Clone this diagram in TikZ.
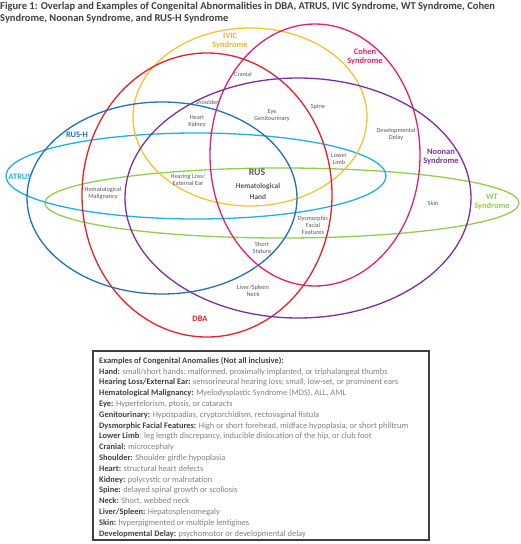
\documentclass[tikz,border=0pt]{standalone}
\usepackage{fontspec}
\setmainfont{Carlito}
\definecolor{ivic}{HTML}{F0C532}
\definecolor{ivict}{HTML}{E6B52C}
\definecolor{cohen}{HTML}{E4206E}
\definecolor{dba}{HTML}{E6202A}
\definecolor{noonan}{HTML}{7A30A0}
\definecolor{rush}{HTML}{2470B6}
\definecolor{atrus}{HTML}{22AEE2}
\definecolor{wt}{HTML}{92CD50}
\definecolor{txt}{HTML}{595959}
\definecolor{dtxt}{HTML}{404040}
\definecolor{ltxt}{HTML}{808080}
\begin{document}
\begin{tikzpicture}[x=1pt,y=-1pt,
  ring/.style={line width=1.3pt},
  setlabel/.style={font=\fontsize{8.4}{9.4}\selectfont\bfseries,align=center,inner sep=0pt},
  small/.style={font=\fontsize{6.3}{7}\selectfont,text=txt,align=center,inner sep=0pt},
  legline/.style={font=\fontsize{8.4}{9}\selectfont,anchor=west,inner sep=0pt,text=ltxt},
  term/.style={text=dtxt,font=\bfseries}
]
\useasboundingbox (0,0) rectangle (520,544);
% title
\node[anchor=north west,inner sep=0pt,align=left,text=dtxt,font=\fontsize{10.5}{12}\selectfont\bfseries] (title) at (0,2)
  {Figure 1: Overlap and Examples of Congenital Abnormalities in DBA, ATRUS, IVIC Syndrome, WT Syndrome, Cohen\\Syndrome, Noonan Syndrome, and RUS-H Syndrome};
% sets
\draw[ring,wt] (282,203) ellipse [x radius=237pt,y radius=35pt];
\draw[ring,atrus] (196,176) ellipse [x radius=190pt,y radius=43pt];
\draw[ring,ivic] (250,117) ellipse [x radius=117pt,y radius=89pt];
\draw[ring,cohen] (315,155) ellipse [x radius=105pt,y radius=131pt];
\draw[ring,dba] (207,195) ellipse [x radius=125pt,y radius=142pt];
\draw[ring,noonan] (298,198) ellipse [x radius=173pt,y radius=120pt];
\draw[ring,rush] (162,198) ellipse [x radius=135pt,y radius=96pt];
% set labels
\node[setlabel,text=ivict] (livic) at (230,41) {IVIC\\Syndrome};
\node[setlabel,text=cohen] (lcohen) at (365,57) {Cohen\\Syndrome};
\node[setlabel,text=rush] (lrush) at (77,135) {RUS-H};
\node[setlabel,text=atrus] (latrus) at (20,177) {ATRUS};
\node[setlabel,text=noonan] (lnoonan) at (441,157) {Noonan\\Syndrome};
\node[setlabel,text=wt] (lwt) at (492,202) {WT\\Syndrome};
\node[setlabel,text=dba] (ldba) at (200,319) {DBA};
\node[inner sep=0pt,text=txt,font=\fontsize{9.8}{10}\selectfont\bfseries] (lrus) at (257,172) {RUS};
\node[inner sep=0pt,align=center,text=txt,font=\fontsize{7.4}{11}\selectfont\bfseries] (lrush2) at (258,191) {Hematological\\Hand};
% anomaly labels
\node[small] (cranial) at (243,74) {Cranial};
\node[small] (shoulder) at (207,102) {Shoulder};
\node[small] (heart) at (197,121) {Heart\\Kidney};
\node[small] (eye) at (272,115) {Eye\\Genitourinary};
\node[small] (spine) at (318,107) {Spine};
\node[small] (dev) at (396,134) {Developmental\\Delay};
\node[small] (lower) at (339,159) {Lower\\Limb};
\node[small] (hearing) at (188,180) {Hearing Loss/\\External Ear};
\node[small] (malig) at (103,193) {Hematological\\Malignancy};
\node[small] (skin) at (433,203) {Skin};
\node[small] (dysm) at (313,225) {Dysmorphic\\Facial\\Features};
\node[small] (short) at (262,248) {Short\\Stature};
\node[small] (liver) at (253,291) {Liver/Spleen\\Neck};
% legend
\draw[line width=1.2pt,dtxt] (93,351) rectangle (429,540);
\node[legline,text=dtxt,font=\fontsize{8.4}{9}\selectfont\bfseries] (l0) at (99,361) {Examples of Congenital Anomalies (Not all inclusive):};
\node[legline] (l1) at (99,371.8) {\textcolor{dtxt}{\bfseries Hand:} small/short hands; malformed, proximally implanted, or triphalangeal thumbs};
\node[legline] (l2) at (99,382.6) {\textcolor{dtxt}{\bfseries Hearing Loss/External Ear:} sensorineural hearing loss; small, low-set, or prominent ears};
\node[legline] (l3) at (99,393.4) {\textcolor{dtxt}{\bfseries Hematological Malignancy:} Myelodysplastic Syndrome (MDS), ALL, AML};
\node[legline] (l4) at (99,404.2) {\textcolor{dtxt}{\bfseries Eye:} Hypertelorism, ptosis, or cataracts};
\node[legline] (l5) at (99,415) {\textcolor{dtxt}{\bfseries Genitourinary:} Hypospadias, cryptorchidism, rectovaginal fistula};
\node[legline] (l6) at (99,425.8) {\textcolor{dtxt}{\bfseries Dysmorphic Facial Features:} High or short forehead, midface hypoplasia, or short philtrum};
\node[legline] (l7) at (99,436.6) {\textcolor{dtxt}{\bfseries Lower Limb}: leg length discrepancy, inducible dislocation of the hip, or club foot};
\node[legline] (l8) at (99,447.4) {\textcolor{dtxt}{\bfseries Cranial:} microcephaly};
\node[legline] (l9) at (99,458.2) {\textcolor{dtxt}{\bfseries Shoulder:} Shoulder girdle hypoplasia};
\node[legline] (l10) at (99,469) {\textcolor{dtxt}{\bfseries Heart:} structural heart defects};
\node[legline] (l11) at (99,479.8) {\textcolor{dtxt}{\bfseries Kidney:} polycystic or malrotation};
\node[legline] (l12) at (99,490.6) {\textcolor{dtxt}{\bfseries Spine:} delayed spinal growth or scoliosis};
\node[legline] (l13) at (99,501.4) {\textcolor{dtxt}{\bfseries Neck:} Short, webbed neck};
\node[legline] (l14) at (99,512.2) {\textcolor{dtxt}{\bfseries Liver/Spleen:} Hepatosplenomegaly};
\node[legline] (l15) at (99,523) {\textcolor{dtxt}{\bfseries Skin:} hyperpigmented or multiple lentigines};
\node[legline] (l16) at (99,533.8) {\textcolor{dtxt}{\bfseries Developmental Delay:} psychomotor or developmental delay};
\end{tikzpicture}
\end{document}
